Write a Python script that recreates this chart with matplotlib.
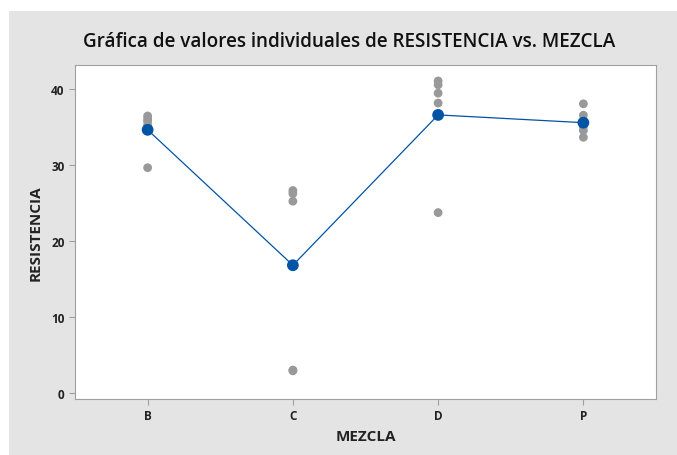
"""Grafica de valores individuales de RESISTENCIA vs. MEZCLA."""

import numpy as np
import matplotlib.pyplot as plt
from matplotlib.patches import Rectangle

plt.rcParams['font.family'] = ['Open Sans', 'DejaVu Sans']

mezclas = ['B', 'C', 'D', 'P']
# individual values
b_vals = [29.6, 35.2, 35.7, 36.0, 36.4]
c_vals = [26.6, 26.2, 25.2, 3.0, 2.9]
d_vals = [41.0, 40.5, 39.4, 38.1, 23.7]
p_vals = [38.0, 36.5, 35.0, 34.5, 33.6]
y_ticks = [0, 10, 20, 30, 40]

groups = [b_vals, c_vals, d_vals, p_vals]
means = [np.mean(g) for g in groups]

fig = plt.figure(figsize=(6.77, 4.56), dpi=100)
fig.patches.append(Rectangle((9 / 677, 0), 1, 1 - 12 / 456, transform=fig.transFigure,
                             facecolor='#e4e4e4', edgecolor='none', zorder=-10))
ax = fig.add_axes([75 / 677, 1 - 400 / 456, 581 / 677, 334 / 456])

gray = '#999999'
blue = '#0054a6'
for i, g in enumerate(groups):
    ax.scatter([i] * len(g), g, s=40, color=gray, edgecolors='none', zorder=2)
ax.plot(range(len(mezclas)), means, color=blue, lw=0.9, zorder=3)
ax.scatter(range(len(mezclas)), means, s=72, color=blue, edgecolors='none', zorder=4)

ax.set_xlim(-0.5, 3.5)
ax.set_ylim(-0.8, 43.1)
ax.set_xticks(range(len(mezclas)))
ax.set_xticklabels(mezclas)
ax.set_yticks(y_ticks)

for s in ax.spines.values():
    s.set_color('#a0a0a0')
ax.tick_params(colors='#a0a0a0', length=4, width=0.8, labelcolor='#222222', labelsize=8.5)
for lab in ax.get_xticklabels() + ax.get_yticklabels():
    lab.set_fontweight('bold')

ax.set_xlabel('MEZCLA', fontsize=11, fontweight='bold', color='#222222', labelpad=5)
ax.set_ylabel('RESISTENCIA', fontsize=11, fontweight='bold', color='#222222', labelpad=6)
fig.text(0.5155, 1 - 42 / 456, 'Gráfica de valores individuales de RESISTENCIA vs. MEZCLA',
         ha='center', va='center', fontsize=13.6, fontweight='semibold', color='#111111')

fig.savefig('out.png', dpi=100)
